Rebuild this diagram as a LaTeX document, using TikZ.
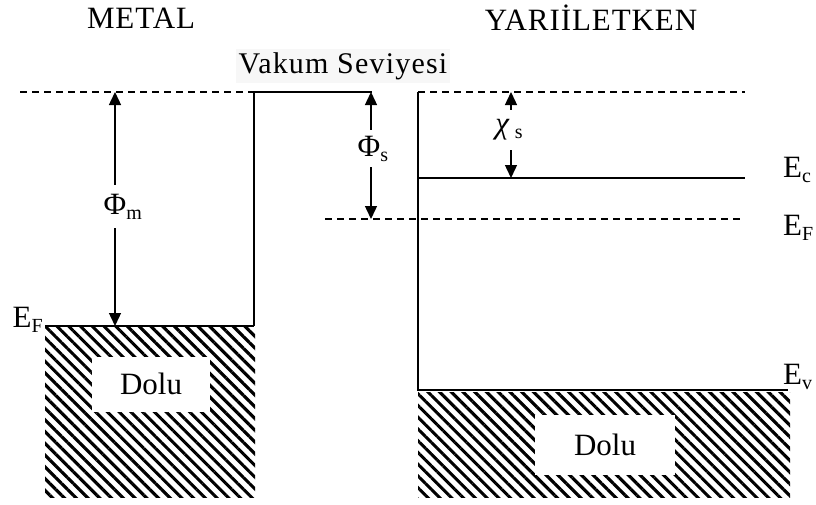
\documentclass[tikz,border=0pt]{standalone}
\usepackage{fontspec}
\setmainfont{Liberation Serif}
\usetikzlibrary{arrows.meta,patterns.meta}
\newcommand{\subtx}[1]{\raisebox{-0.35ex}{\fontsize{20}{20}\selectfont #1}}
\begin{document}
\begin{tikzpicture}[x=1pt,y=-1pt,
  txt/.style={font=\fontsize{31}{31}\selectfont, inner sep=0pt},
  ttl/.style={font=\fontsize{31}{31}\selectfont\addfontfeature{LetterSpace=3}, inner sep=0pt},
  lvl/.style={line width=1.4pt},
  dlvl/.style={line width=1.4pt, dash pattern=on 7pt off 5pt},
  arr/.style={line width=1.4pt, -{Triangle[length=13pt,width=12pt]}},
  hatch/.style={pattern={Lines[angle=-45,distance=8.3pt,line width=3.1pt]}},
  holebox/.style={fill=white, inner sep=0pt, font=\fontsize{31}{31}\selectfont}]
\useasboundingbox (0,0) rectangle (816,504);
% titles
\node[ttl] (metal) at (141,18) {METAL};
\node[ttl] (semi) at (591,18) {YARIİLETKEN};
\node[inner sep=3pt, fill=black!3, font=\fontsize{30}{30}\selectfont\addfontfeature{LetterSpace=4}] (vak) at (343,66) {Vakum Seviyesi};
% metal coordinates
\coordinate (mvl) at (20,92);
\coordinate (mvr) at (254,92);
\coordinate (mvs) at (372,92);
\coordinate (mfl) at (45,326);
\coordinate (mfr) at (254,326);
% metal levels
\draw[dlvl] (mvl) -- (mvr);
\draw[lvl] (mfr) -- (mvr) -- (mvs);
\fill[hatch] (45,327) rectangle (255,497);
\draw[lvl] (mfl) -- (mfr);
\node[holebox, minimum width=118pt, minimum height=55pt] (dolum) at (151,384) {Dolu};
\node[txt, anchor=east] (efm) at (43,320) {E\subtx{F}};
% phi m
\coordinate (phimtop) at (115,92);
\coordinate (phimbot) at (115,326);
\node[txt, minimum height=43pt] (phim) at (115,206.5) {Φ\rlap{\subtx{m}}};
\draw[arr] (phim.north -| phimtop) -- (phimtop);
\draw[arr] (phim.south -| phimbot) -- (phimbot);
% phi s
\coordinate (phistop) at (371,92);
\coordinate (phisbot) at (371,219);
\node[txt, minimum height=37pt] (phis) at (369,148.5) {Φ\rlap{\subtx{s}}};
\draw[arr] (phis.north -| phistop) -- (phistop);
\draw[arr] (phis.south -| phisbot) -- (phisbot);
% semiconductor
\coordinate (svl) at (418,92);
\coordinate (svr) at (745,92);
\coordinate (scl) at (418,178);
\coordinate (scr) at (745,178);
\coordinate (sfl) at (325,219);
\coordinate (sfr) at (742,219);
\coordinate (sbl) at (418,390);
\coordinate (sbr) at (788,390);
\draw[dlvl] (svl) -- (svr);
\draw[lvl] (scl) -- (scr);
\draw[dlvl] (sfl) -- (sfr);
\fill[hatch] (418,392) rectangle (790,497);
\draw[lvl] (svl) -- (sbl) -- (sbr);
\node[holebox, minimum width=140pt, minimum height=60pt] (dolus) at (605,445) {Dolu};
% chi s
\coordinate (chitop) at (511,92);
\coordinate (chibot) at (511,178);
\node[txt, minimum height=40pt] (chis) at (509,130) {\textit{χ}\,\subtx{s}};
\draw[arr] (chis.north -| chitop) -- (chitop);
\draw[arr] (chis.south -| chibot) -- (chibot);
% labels
\node[txt, anchor=west] (ec) at (783,170) {E\subtx{c}};
\node[txt, anchor=west] (ef) at (783,228) {E\subtx{F}};
\node[txt, anchor=west] (ev) at (783,377) {E\subtx{v}};
\end{tikzpicture}
\end{document}
